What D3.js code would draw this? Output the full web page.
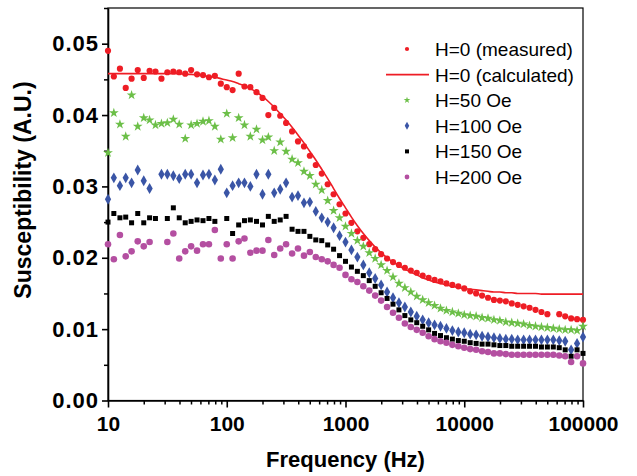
<!DOCTYPE html>
<html>
<head>
<meta charset="utf-8">
<script src="https://cdn.jsdelivr.net/npm/d3@7"></script>
<style>
  body { margin: 0; background: #fff; }
  text { font-family: "Liberation Sans", Arial, sans-serif; }
</style>
</head>
<body>
<div id="chart"></div>
<script>
// Frequencies (Hz), shared by every series
const freqHz = [
  10, 11.2, 12.6, 14.1, 15.8, 17.8, 20, 22.4, 25.1, 28.2,
  31.6, 35.5, 39.8, 44.7, 50.1, 56.2, 63.1, 70.8, 79.4, 89.1,
  100, 112, 126, 141, 158, 178, 200, 224, 251, 282,
  316, 355, 398, 447, 501, 562, 631, 708, 794, 891,
  1000, 1122, 1259, 1413, 1585, 1778, 1995, 2239, 2512, 2818,
  3162, 3548, 3981, 4467, 5012, 5623, 6310, 7079, 7943, 8913,
  10000, 11220, 12590, 14130, 15850, 17780, 19950, 22390, 25120, 28180,
  31620, 35480, 39810, 44670, 50120, 56230, 63100, 70790, 79430, 89130,
  100000
];

// H=0 measured
const chiH0 = [
  0.0490, 0.0454, 0.0465, 0.0438, 0.0451, 0.0463, 0.0452, 0.0462, 0.0461, 0.0451,
  0.0460, 0.0461, 0.0460, 0.0458, 0.0463, 0.0457, 0.0456, 0.0453, 0.0455, 0.0444,
  0.0439, 0.0435, 0.0458, 0.0440, 0.0439, 0.0432, 0.0424, 0.0400, 0.0410, 0.0399,
  0.0389, 0.0377, 0.0363, 0.0356, 0.0343, 0.0330, 0.0318, 0.0303, 0.0289, 0.0275,
  0.0262, 0.0249, 0.0237, 0.0228, 0.0219, 0.0212, 0.0205, 0.0199, 0.0194, 0.0190,
  0.0186, 0.0182, 0.0179, 0.0175, 0.0172, 0.0169, 0.0167, 0.0164, 0.0162, 0.0160,
  0.0157, 0.0153, 0.0150, 0.0147, 0.0144, 0.0141, 0.0140, 0.0139, 0.0136, 0.0134,
  0.0132, 0.0130, 0.0127, 0.0124, 0.0121, null, 0.0121, 0.0118, 0.0115, 0.0114,
  0.0113
];

// H=0 calculated
const chiH0Calc = [
  0.0458, 0.0458, 0.0458, 0.0458, 0.0458, 0.0458, 0.0458, 0.0458, 0.0458, 0.0458,
  0.0458, 0.0458, 0.0458, 0.0457, 0.0457, 0.0456, 0.0455, 0.0454, 0.0453, 0.0451,
  0.0449, 0.0447, 0.0444, 0.0441, 0.0437, 0.0432, 0.0426, 0.0419, 0.0411, 0.0402,
  0.0393, 0.0383, 0.0372, 0.0361, 0.0349, 0.0337, 0.0324, 0.0311, 0.0297, 0.0283,
  0.0270, 0.0257, 0.0245, 0.0234, 0.0224, 0.0215, 0.0207, 0.0200, 0.0194, 0.0189,
  0.0184, 0.0180, 0.0176, 0.0172, 0.0169, 0.0166, 0.0164, 0.0162, 0.0160, 0.0158,
  0.0157, 0.0156, 0.0155, 0.0154, 0.0153, 0.0152, 0.0152, 0.0151, 0.0151, 0.0150,
  0.0150, 0.0150, 0.0150, 0.0149, 0.0149, 0.0149, 0.0149, 0.0149, 0.0149, 0.0149,
  0.0149
];

// H=50 Oe
const chiH50 = [
  0.0347, 0.0403, 0.0387, 0.0370, 0.0428, 0.0384, 0.0396, 0.0393, 0.0386, 0.0388,
  0.0389, 0.0394, 0.0387, 0.0367, 0.0386, 0.0388, 0.0391, 0.0392, 0.0384, 0.0366,
  0.0402, 0.0368, 0.0396, 0.0386, 0.0370, 0.0380, 0.0365, 0.0369, 0.0350, 0.0362,
  0.0349, 0.0338, 0.0333, 0.0321, 0.0315, 0.0303, 0.0295, 0.0280, 0.0266, 0.0256,
  0.0244, 0.0234, 0.0224, 0.0216, 0.0207, 0.0199, 0.0190, 0.0182, 0.0173, 0.0164,
  0.0158, 0.0152, 0.0146, 0.0141, 0.0137, 0.0133, 0.0129, 0.0126, 0.0124, 0.0122,
  0.0120, 0.0119, 0.0118, 0.0116, 0.0115, 0.0113, 0.0112, 0.0110, 0.0109, 0.0108,
  0.0107, 0.0105, 0.0104, 0.0103, 0.0102, 0.0101, 0.0100, 0.0099, 0.0099, 0.0098,
  0.0104
];

// H=100 Oe
const chiH100 = [
  0.0282, 0.0312, 0.0301, 0.0312, 0.0305, 0.0323, 0.0308, 0.0297, null, 0.0317,
  0.0317, 0.0315, 0.0311, 0.0317, 0.0317, 0.0305, 0.0316, 0.0317, 0.0309, 0.0324,
  0.0291, 0.0301, 0.0305, 0.0305, 0.0300, 0.0317, 0.0289, 0.0317, 0.0291, 0.0296,
  0.0305, 0.0285, 0.0287, 0.0277, 0.0278, 0.0265, 0.0256, 0.0250, 0.0242, 0.0231,
  0.0222, 0.0211, 0.0201, 0.0190, 0.0179, 0.0171, 0.0162, 0.0152, 0.0144, 0.0137,
  0.0131, 0.0124, 0.0118, 0.0113, 0.0109, 0.0106, 0.0104, 0.0101, 0.0098, 0.0096,
  0.0095, 0.0093, 0.0092, 0.0090, 0.0089, 0.0088, 0.0087, 0.0086, 0.0086, 0.0085,
  0.0085, 0.0085, 0.0085, 0.0085, 0.0085, 0.0085, 0.0084, 0.0083, 0.0071, 0.0080,
  0.0089
];

// H=150 Oe
const chiH150 = [
  0.0250, 0.0262, 0.0256, 0.0257, 0.0249, 0.0262, 0.0249, 0.0256, 0.0255, null,
  0.0255, 0.0270, 0.0256, 0.0249, 0.0251, 0.0253, 0.0252, 0.0255, 0.0251, null,
  0.0255, 0.0234, 0.0246, 0.0252, 0.0253, 0.0251, 0.0246, 0.0258, 0.0251, 0.0253,
  0.0258, 0.0240, 0.0237, 0.0237, 0.0230, 0.0225, 0.0224, 0.0218, 0.0212, 0.0203,
  0.0195, 0.0187, 0.0181, 0.0175, 0.0168, 0.0160, 0.0151, 0.0143, 0.0135, 0.0127,
  0.0119, 0.0113, 0.0109, 0.0104, 0.0099, 0.0094, 0.0091, 0.0088, 0.0086, 0.0084,
  0.0083, 0.0081, 0.0080, 0.0079, 0.0079, 0.0078, 0.0077, 0.0077, 0.0076, 0.0076,
  0.0076, 0.0076, 0.0076, 0.0075, 0.0075, 0.0075, 0.0074, 0.0071, 0.0062, 0.0071,
  0.0066
];

// H=200 Oe
const chiH200 = [
  0.0219, 0.0198, 0.0232, 0.0202, 0.0209, 0.0223, 0.0216, 0.0222, null, null,
  0.0222, 0.0234, 0.0199, 0.0209, 0.0216, 0.0210, 0.0219, 0.0219, 0.0239, 0.0199,
  0.0219, 0.0199, 0.0223, 0.0227, 0.0207, 0.0210, 0.0210, 0.0225, 0.0204, 0.0213,
  0.0219, 0.0206, 0.0213, 0.0203, 0.0208, 0.0201, 0.0198, 0.0195, 0.0190, 0.0186,
  0.0176, 0.0170, 0.0166, 0.0160, 0.0154, 0.0147, 0.0140, 0.0131, 0.0123, 0.0116,
  0.0108, 0.0103, 0.0099, 0.0095, 0.0090, 0.0086, 0.0083, 0.0081, 0.0078, 0.0076,
  0.0074, 0.0072, 0.0071, 0.0069, 0.0068, 0.0066, 0.0066, 0.0065, 0.0064, 0.0064,
  0.0064, 0.0064, 0.0064, 0.0064, 0.0064, 0.0064, 0.0063, 0.0062, 0.0054, 0.0062,
  0.0052
];

// Ticks
const xMajor = [10, 100, 1000, 10000, 100000];
const xMinor = [
  20, 30, 40, 50, 60, 70, 80, 90,
  200, 300, 400, 500, 600, 700, 800, 900,
  2000, 3000, 4000, 5000, 6000, 7000, 8000, 9000,
  20000, 30000, 40000, 50000, 60000, 70000, 80000, 90000
];
const yMajor = [0, 0.01, 0.02, 0.03, 0.04, 0.05];
const yMinor = [0.005, 0.015, 0.025, 0.035, 0.045, 0.055];

const legendLabels = [
  "H=0 (measured)", "H=0 (calculated)", "H=50 Oe",
  "H=100 Oe", "H=150 Oe", "H=200 Oe"
];

// Chart dimensions
const margin = { top: 8, right: 54, bottom: 75.5, left: 108 };
const width = 637 - margin.left - margin.right;
const height = 476 - margin.top - margin.bottom;

const svg = d3
  .select("#chart")
  .append("svg")
  .attr("width", 637)
  .attr("height", 476)
  .style("background", "#fff");

const g = svg
  .append("g")
  .attr("transform", `translate(${margin.left},${margin.top})`);

// Scales
const xScale = d3.scaleLog().domain([10, 100000]).range([0, width]);
const yScale = d3.scaleLinear().domain([0, 0.055]).range([height, 0]);

// Frame (top/right)
g.append("rect")
  .attr("x", 0)
  .attr("y", 0)
  .attr("width", width)
  .attr("height", height)
  .attr("fill", "none")
  .attr("stroke", "#000")
  .attr("stroke-width", 1.2);

// Minor ticks
g.append("g")
  .attr("transform", `translate(0,${height})`)
  .call(d3.axisBottom(xScale).tickValues(xMinor).tickSize(4).tickFormat(""))
  .call((s) => s.select(".domain").remove())
  .selectAll("line")
  .attr("stroke-width", 1.5);

g.append("g")
  .call(d3.axisLeft(yScale).tickValues(yMinor).tickSize(4).tickFormat(""))
  .call((s) => s.select(".domain").remove())
  .selectAll("line")
  .attr("stroke-width", 1.5);

// Major axes
const xAxis = g
  .append("g")
  .attr("transform", `translate(0,${height})`)
  .call(
    d3
      .axisBottom(xScale)
      .tickValues(xMajor)
      .tickFormat(d3.format("d"))
      .tickSize(7)
      .tickSizeOuter(0)
      .tickPadding(9)
  );

const yAxis = g
  .append("g")
  .call(
    d3
      .axisLeft(yScale)
      .tickValues(yMajor)
      .tickFormat(d3.format(".2f"))
      .tickSize(6)
      .tickSizeOuter(0)
      .tickPadding(3)
  );

[xAxis, yAxis].forEach((a) => {
  a.select(".domain").attr("stroke-width", 1.6);
  a.selectAll("line").attr("stroke-width", 1.6);
  a.selectAll("text")
    .attr("fill", "#000")
    .style("font-family", '"Liberation Sans", Arial, sans-serif')
    .style("font-weight", "bold");
});
xAxis.selectAll("text").style("font-size", "21px");
yAxis.selectAll("text").style("font-size", "22px").style("letter-spacing", "1px");

// Axis titles
svg
  .append("text")
  .attr("x", margin.left + width / 2)
  .attr("y", 467)
  .attr("text-anchor", "middle")
  .style("font-size", "22px")
  .style("font-weight", "bold")
  .text("Frequency (Hz)");

svg
  .append("text")
  .attr("transform", "translate(31,190) rotate(-90)")
  .attr("text-anchor", "middle")
  .style("font-size", "23px")
  .style("font-weight", "bold")
  .text("Susceptibility (A.U.)");

// Series definitions
const red = "#ee1d25";
const series = [
  { values: chiH0, color: red, symbol: d3.symbolCircle, size: 30, legendSize: 14 },
  { values: chiH50, color: "#6cbf48", symbol: d3.symbolStar, size: 30, legendSize: 14 },
  { values: chiH100, color: "#3a55a6", symbol: d3.symbolDiamond, size: 34, legendSize: 18 },
  { values: chiH150, color: "#000000", symbol: d3.symbolSquare, size: 25, legendSize: 16 },
  { values: chiH200, color: "#b44fa1", symbol: d3.symbolCircle, size: 34, legendSize: 18 }
];

// Calculated line
const line = d3
  .line()
  .x((d) => xScale(d[0]))
  .y((d) => yScale(d[1]))
  .curve(d3.curveMonotoneX);

// Points
series.forEach((s, k) => {
  const pts = freqHz
    .map((f, i) => [f, s.values[i]])
    .filter((d) => d[1] !== null);
  g.append("g")
    .selectAll("path")
    .data(pts)
    .enter()
    .append("path")
    .attr("d", d3.symbol().type(s.symbol).size(s.size))
    .attr("transform", (d) => `translate(${xScale(d[0])},${yScale(d[1])})`)
    .attr("fill", s.color);

  if (k === 0) {
    g.append("path")
      .datum(freqHz.map((f, i) => [f, chiH0Calc[i]]))
      .attr("d", line)
      .attr("fill", "none")
      .attr("stroke", red)
      .attr("stroke-width", 1.6);
  }
});

// Legend
const legend = svg.append("g").attr("transform", "translate(407,49)");
const rowH = 25.6;
const legendItems = [
  { label: legendLabels[0], s: series[0] },
  { label: legendLabels[1], line: true },
  { label: legendLabels[2], s: series[1] },
  { label: legendLabels[3], s: series[2] },
  { label: legendLabels[4], s: series[3] },
  { label: legendLabels[5], s: series[4] }
];

legendItems.forEach((item, i) => {
  const row = legend.append("g").attr("transform", `translate(0,${i * rowH})`);
  if (item.line) {
    row.append("line")
      .attr("x1", -21)
      .attr("x2", 22)
      .attr("stroke", red)
      .attr("stroke-width", 1.6);
  } else {
    row.append("path")
      .attr("d", d3.symbol().type(item.s.symbol).size(item.s.legendSize))
      .attr("fill", item.s.color);
  }
  row.append("text")
    .attr("x", 28)
    .attr("y", 7)
    .style("font-size", "19px")
    .attr("fill", "#000")
    .text(item.label);
});
</script>
</body>
</html>
